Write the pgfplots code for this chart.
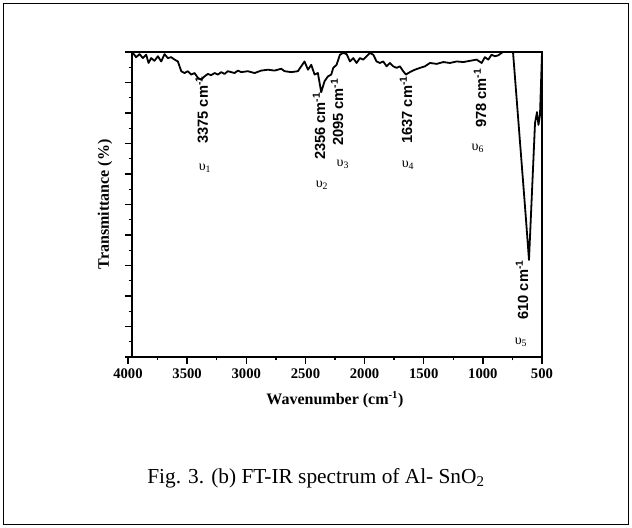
\documentclass[border=0pt]{standalone}
\usepackage{fontspec}
\setmainfont{Liberation Serif}
\newfontfamily\arial{Liberation Sans}
\usepackage{pgfplots}
\pgfplotsset{compat=1.18}
\begin{document}
\begin{tikzpicture}
\useasboundingbox (0,0) rectangle (474pt,396pt);
\draw[line width=1.2pt] (2.5pt,2.5pt) rectangle (471.5pt,393.5pt);
% main axis box with spectrum
\begin{axis}[
  at={(99pt,128.25pt)}, anchor=south west,
  scale only axis, width=307.5pt, height=228.75pt,
  x dir=reverse, xmin=500, xmax=3965, ymin=0, ymax=100,
  xtick=\empty,
  ytick={0,10,...,100}, minor ytick={5,15,...,95},
  yticklabels={},
  ytick pos=left, tick align=outside,
  major tick length=5.25pt, minor tick length=2.6pt,
  every tick/.style={line width=1pt, black},
  axis line style={line width=1.1pt},
  ylabel={Transmittance (\%)},
  ylabel style={font=\bfseries\fontsize{12}{12}\selectfont, at={(axis description cs:-0.066,0.5)}, anchor=center},
  clip=true,
]
\addplot[black, line width=1.35pt, line join=round] coordinates {
(4000,99.5) (3958,99.7) (3930,98.3) (3901,99.3) (3873,98.0) (3845,99.1)
(3825,96.4) (3803,98.0) (3775,97.1) (3746,98.6) (3718,96.9) (3690,99.3)
(3662,98.0) (3634,98.3) (3605,97.5) (3577,96.9) (3549,93.7) (3521,93.1)
(3493,93.7) (3465,92.6) (3436,93.1) (3408,91.5) (3380,90.9) (3352,92.0)
(3324,92.8) (3296,92.4) (3267,93.1) (3239,92.6) (3211,93.4) (3183,92.8)
(3155,93.7) (3098,93.1) (3070,93.9) (3042,93.4) (2986,93.7) (2929,93.1)
(2873,93.9) (2816,94.2) (2760,93.9) (2704,94.5) (2675,93.7) (2619,93.4)
(2563,93.7) (2535,95.3) (2507,96.9) (2478,94.2) (2450,95.8) (2422,92.6)
(2394,93.1) (2366,86.8) (2338,90.4) (2309,92.0) (2281,92.6) (2264,94.8)
(2236,95.8) (2208,99.1) (2180,99.7) (2151,99.3) (2123,96.9) (2095,98.0)
(2067,96.4) (2039,98.0) (2011,97.5) (1982,98.6) (1954,99.7) (1926,99.1)
(1898,96.9) (1870,96.4) (1842,96.9) (1813,95.3) (1785,96.4) (1757,95.3)
(1729,94.8) (1701,95.3) (1673,93.7) (1650,92.6) (1630,93.1) (1602,93.7)
(1574,94.2) (1531,94.8) (1489,95.3) (1447,96.4) (1390,96.1) (1334,96.7)
(1278,96.4) (1221,96.9) (1165,96.7) (1109,97.1) (1052,97.5) (1010,96.4)
(983,98.3) (954,97.5) (926,99.1) (898,98.6) (870,98.9) (841,99.7)
(833,100) (745,100) (661,58.0) (635,44.9) (610,31.8) (559,76.7)
(542,80.3) (530,76.1) (517,79.3) (500,99.7)
};
\begin{scope}[every node/.style={rotate=90, anchor=center, font=\arial\bfseries\fontsize{11}{11}\selectfont}]
\node at (axis cs:3375,81) {3375 cm\textsuperscript{-1}};
\node at (axis cs:2384,75.7) {2356 cm\textsuperscript{-1}};
\node at (axis cs:2232,80.3) {2095 cm\textsuperscript{-1}};
\node at (axis cs:1649,81) {1637 cm\textsuperscript{-1}};
\node at (axis cs:1024,84.9) {978 cm\textsuperscript{-1}};
\node at (axis cs:669,22) {610 cm\textsuperscript{-1}};
\end{scope}
\begin{scope}[every node/.style={anchor=center, font=\fontsize{10.5}{10.5}\selectfont}]
\node at (axis cs:3348,62) {υ\textsubscript{1}};
\node at (axis cs:2359,56.4) {υ\textsubscript{2}};
\node at (axis cs:2182,63.3) {υ\textsubscript{3}};
\node at (axis cs:1632,63) {υ\textsubscript{4}};
\node at (axis cs:1041,68.5) {υ\textsubscript{6}};
\node at (axis cs:677,4.9) {υ\textsubscript{5}};
\end{scope}
\end{axis}
% x axis line with ticks
\begin{axis}[
  at={(96pt,128.25pt)}, anchor=south west,
  scale only axis, width=310.5pt, height=228.75pt,
  x dir=reverse, xmin=500, xmax=4000, ymin=0, ymax=1,
  axis x line*=bottom, axis y line=none,
  axis line style={line width=1.1pt, -},
  xtick={500,1000,...,4000}, minor xtick={750,1250,...,3750},
  ytick=\empty,
  tick align=outside,
  major tick length=5.25pt, minor tick length=2.6pt,
  every tick/.style={line width=1pt, black},
  /pgf/number format/assume math mode=true,
  /pgf/number format/1000 sep={},
  xticklabel style={font=\bfseries\fontsize{11}{11}\selectfont},
  xlabel={Wavenumber (cm\textsuperscript{-1})},
  xlabel style={font=\bfseries\fontsize{12}{12}\selectfont, at={(axis description cs:0.5,-0.14)}, anchor=center},
]
\end{axis}
\node[font=\fontsize{16}{16}\selectfont] at (237pt,37.5pt) {Fig. 3. (b) FT-IR spectrum of Al- SnO\textsubscript{2}};
\end{tikzpicture}
\end{document}
